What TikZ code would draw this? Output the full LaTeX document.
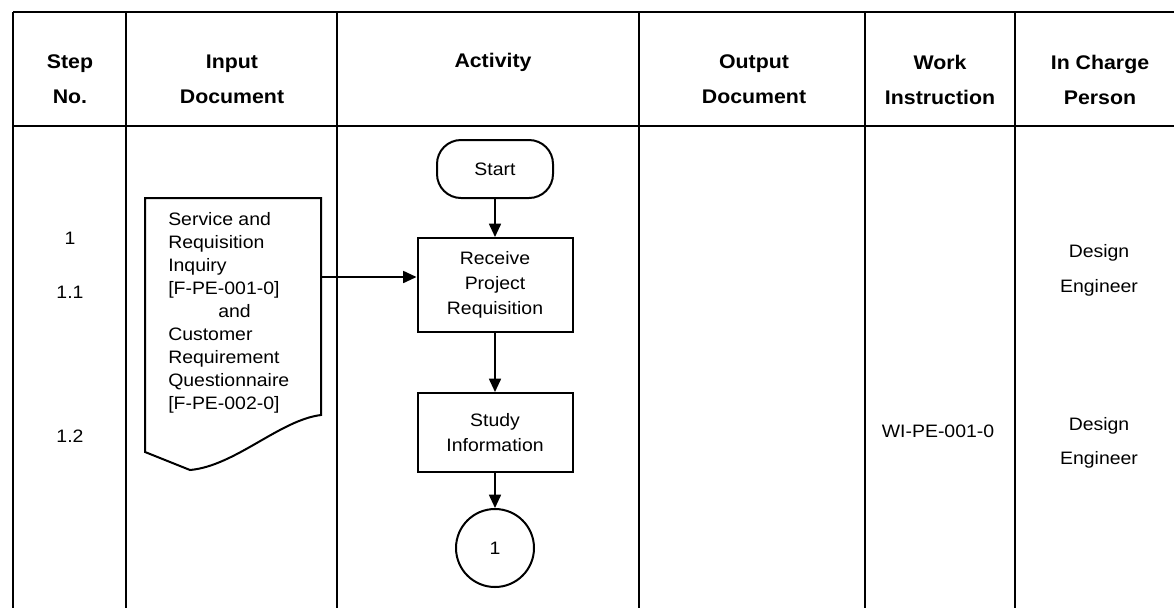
\documentclass[tikz,border=0pt]{standalone}
\usepackage{fontspec}
\setmainfont{Liberation Sans}[FakeStretch=1.08]
\usetikzlibrary{arrows.meta}
\begin{document}
\begin{tikzpicture}[x=0.75pt,y=-0.75pt,
  grid/.style={line width=1.5pt},
  hdr/.style={font=\fontsize{14.8}{26.25}\selectfont\bfseries, align=center, inner sep=0},
  txt/.style={font=\fontsize{13.5}{17.3}\selectfont, align=center, inner sep=0},
  boxtxt/.style={font=\fontsize{13.5}{18.75}\selectfont, align=center, inner sep=0},
  proc/.style={boxtxt, draw, line width=1.5pt, minimum width=116.25pt},
  flow/.style={line width=1.3pt, -{Triangle[length=10pt,width=9pt]}}]
\useasboundingbox (0,0) rectangle (1174,608);
% table grid
\draw[grid] (13,12) -- (1174,12);
\draw[grid] (13,126) -- (1174,126);
\foreach \xx in {13,126,337,639,865,1015} \draw[grid] (\xx,12) -- (\xx,608);
% headers
\node[hdr] (h1) at (70,79.5) {Step\\No.};
\node[hdr] (h2) at (232,79.5) {Input\\Document};
\node[hdr] (h3) at (493,62) {Activity};
\node[hdr] (h4) at (754,79.5) {Output\\Document};
\node[hdr] (h5) at (940,79.5) {Work\\Instruction};
\node[hdr] (h6) at (1100,79.5) {In Charge\\Person};
% step numbers
\node[txt] (s1) at (70,238) {1};
\node[txt] (s11) at (70,292) {1.1};
\node[txt] (s12) at (70,436) {1.2};
% input document
\draw[line width=1.5pt] (145,198) -- (321,198) -- (321,415)
  .. controls (280,420) and (235,466) .. (190,470) -- (145,452) -- cycle;
\node[txt, align=left, anchor=west] (doc) at (168,313)
  {Service and\\Requisition\\Inquiry\\{[}F-PE-001-0{]}\\\hspace*{37.5pt}and\\Customer\\Requirement\\Questionnaire\\{[}F-PE-002-0{]}};
\coordinate (docR) at (321,277);
% activity flow
\node[boxtxt, draw, line width=1.5pt, rounded corners=18pt, minimum width=87pt, minimum height=43.5pt] (start) at (495,169) {Start};
\node[proc, minimum height=70.5pt] (recv) at (495,285) {Receive\\Project\\Requisition};
\node[proc, minimum height=59.25pt] (study) at (495,432.5) {Study\\Information};
\node[boxtxt, draw, circle, line width=1.5pt, minimum size=58.5pt] (c1) at (495,548) {1};
\draw[flow] (start.south) -- (recv.north);
\draw[flow] (recv.south) -- (study.north);
\draw[flow] (study.south) -- (c1.north);
\draw[flow] (docR) -- (docR -| recv.west);
% work instruction and in charge
\node[txt] (wi) at (938,431) {WI-PE-001-0};
\node[txt, font=\fontsize{13.5}{26}\selectfont] (p1) at (1099,270.5) {Design\\Engineer};
\node[txt, font=\fontsize{13.5}{26}\selectfont] (p2) at (1099,443) {Design\\Engineer};
\end{tikzpicture}
\end{document}
